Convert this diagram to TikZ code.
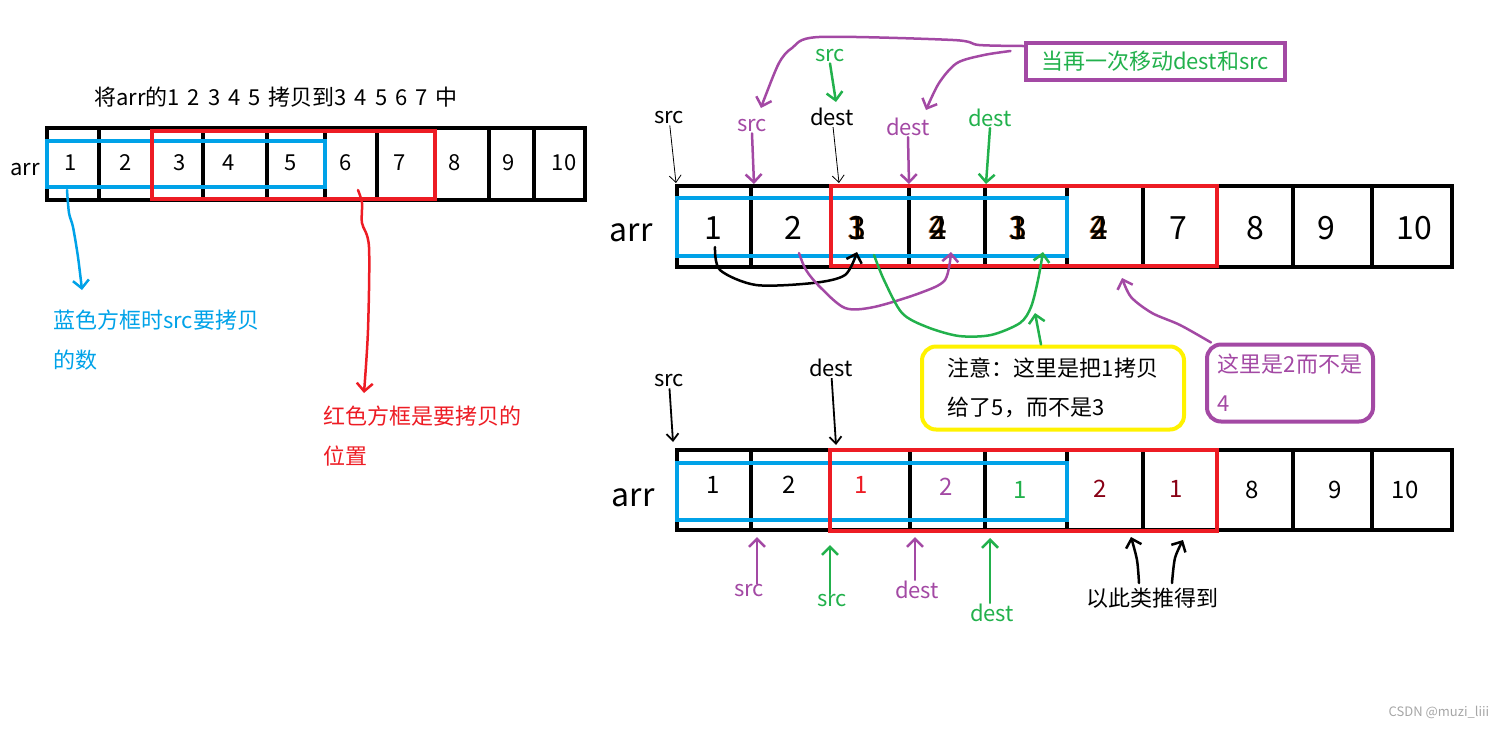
\documentclass[tikz,border=0pt]{standalone}
\usepackage{fontspec}
\setmainfont{Noto Sans CJK SC}
\usetikzlibrary{arrows.meta}
\definecolor{pblue}{RGB}{0,162,232}
\definecolor{pred}{RGB}{237,28,36}
\definecolor{pgreen}{RGB}{34,177,76}
\definecolor{ppurple}{RGB}{163,73,164}
\definecolor{pyellow}{RGB}{255,242,0}
\definecolor{pdark}{RGB}{136,0,21}
\definecolor{shade}{RGB}{200,110,30}
\newcommand\twodig[2]{\makebox[0pt]{\kern-1.6pt\textcolor{shade}{#1}}\makebox[0pt]{\kern-1.6pt\textcolor{shade}{#2}}\makebox[0pt]{#1}\makebox[0pt]{#2}}
\tikzset{
  wall/.style={line width=4pt},
  bluebox/.style={draw=pblue, line width=4pt},
  redbox/.style={draw=pred, line width=4pt},
  hand/.style={line width=2.5pt, line cap=round, line join=round, -{Straight Barb[length=8pt,width=16pt]}},
  thinarrow/.style={line width=0.8pt, -{Straight Barb[length=7pt,width=12pt]}},
  lbl/.style={font=\fontsize{22}{26}\selectfont, inner sep=1pt},
  big/.style={font=\fontsize{32}{36}\selectfont, inner sep=1pt},
  mid/.style={font=\fontsize{24}{28}\selectfont, inner sep=1pt},
}
\begin{document}
\begin{tikzpicture}[x=1pt,y=-1pt]
\useasboundingbox (0,0) rectangle (1508,729);

% first array
\node[lbl] (title) at (276,97) {\spaceskip=8pt\relax 将arr的1 2 3 4 5 拷贝到3 4 5 6 7 中};
\draw[wall] (47,128) rectangle (585,200);
\foreach \x in {99,152,203,267,325,377,435,489,534}
  \draw[wall] (\x,128) -- (\x,200);
\foreach \x/\v [count=\i] in {71/1,126/2,180/3,229/4,291/5,346/6,400/7,455/8,509/9,564/10}
  \node[lbl] (l\i) at (\x,163) {\v};
\node[lbl] (larr) at (25,170) {arr};
\draw[bluebox] (47,141) rectangle (325,187);
\draw[redbox] (152,131) rectangle (435,199);

\node[lbl, text=pblue, align=left, anchor=north west, font=\fontsize{22}{40}\selectfont] (bnote) at (52,309) {蓝色方框时src要拷贝\\的数};
\node[lbl, text=pred, align=left, anchor=north west, font=\fontsize{22}{40}\selectfont] (rnote) at (322,405) {红色方框是要拷贝的\\位置};
\coordinate (btip) at (82,290);
\coordinate (rtip) at (364,393);
\draw[hand, pblue] plot[smooth] coordinates {(67,190) (69,213) (73,227) (78,257) (btip)};
\draw[hand, pred] plot[smooth] coordinates {(358,190) (362,203) (362,223) (369,247) (368,330) (rtip)};

% second array
\node[big] (tarr) at (631,233) {arr};
\draw[wall] (677,186) rectangle (1452,267);
\foreach \x in {751,831,909,985,1067,1143,1217,1293,1372}
  \draw[wall] (\x,186) -- (\x,267);
\node[big] (t1) at (713,228) {1};
\node[big] (t2) at (793,228) {2};
\node[big] (t3) at (857,228) {\twodig{3}{1}};
\node[big] (t4) at (938,228) {\twodig{4}{2}};
\node[big] (t5) at (1018,228) {\twodig{3}{1}};
\node[big] (t6) at (1099,228) {\twodig{4}{2}};
\node[big] (t7) at (1178,228) {7};
\node[big] (t8) at (1255,228) {8};
\node[big] (t9) at (1326,228) {9};
\node[big] (t10) at (1414,228) {10};
\draw[bluebox] (677,198) rectangle (1067,256);
\draw[redbox] (831,186) rectangle (1217,266);

\node[lbl] (s0) at (669,118) {src};
\node[lbl, text=ppurple] (s1) at (752,126) {src};
\node[lbl] (d0) at (832,117) {dest};
\node[lbl, text=pgreen] (s2) at (830,56) {src};
\node[lbl, text=ppurple] (d1) at (908,127) {dest};
\node[lbl, text=pgreen] (d2) at (990,118) {dest};
\coordinate (ts0) at (676,183);
\coordinate (ts1) at (754,184);
\coordinate (td0) at (839,183);
\coordinate (ts2) at (836,102);
\coordinate (td1) at (909,184);
\coordinate (td2) at (986,184);
\draw[thinarrow] (s0) -- (ts0);
\draw[thinarrow] (d0) -- (td0);
\draw[hand, ppurple] (s1.south) -- (ts1);
\draw[hand, ppurple] (d1.south) -- (td1);
\draw[hand, pgreen] (s2.south) -- (ts2);
\draw[hand, pgreen] (d2.south) -- (td2);

\node[draw=ppurple, line width=4pt, text=pgreen, font=\fontsize{22}{26}\selectfont, minimum width=259pt, minimum height=37pt] (again) at (1155,61) {当再一次移动dest和src};
\coordinate (pa) at (761,108);
\coordinate (pb) at (926,110);
\draw[hand, ppurple] plot[smooth] coordinates {([yshift=15pt]again.west) (979,45) (953,40) (819,37) (792,48) (779,63) (765,97) (pa)};
\draw[hand, ppurple] plot[smooth] coordinates {([shift={(-13pt,10pt)}]again.west) (984,55) (957,63) (939,83) (pb)};

\node[draw=pyellow, line width=4pt, rounded corners=14pt, align=left, font=\fontsize{22}{39}\selectfont, minimum width=262pt, minimum height=83pt] (warn) at (1053,388) {注意：这里是把1拷贝\\给了5，而不是3};
\node[draw=ppurple, line width=4pt, rounded corners=14pt, align=left, text=ppurple, font=\fontsize{22}{39}\selectfont, minimum width=166pt, minimum height=77pt] (why) at (1290,383) {这里是2而不是\\4};

\coordinate (k3) at (857,252);
\coordinate (k4) at (951,252);
\coordinate (k5) at (1043,252);
\coordinate (k5b) at (1035,313);
\coordinate (k6) at (1122,278);
\draw[hand] plot[smooth] coordinates {(715,247) (720,270) (756,285) (813,283) (845,275) (k3)};
\draw[hand, ppurple] plot[smooth] coordinates {(799,253) (806,270) (820,287) (845,308) (874,307) (920,293) (945,280) (k4)};
\draw[hand, pgreen] plot[smooth] coordinates {(874,255) (884,280) (902,313) (927,327) (959,336) (991,335) (1020,323) (1031,307) (1038,280) (k5)};
\draw[hand, pgreen] ([xshift=-12pt]warn.north east -| warn.north) -- (k5b);
\draw[hand, ppurple] plot[smooth] coordinates {([xshift=6pt]why.north west) (1180,325) (1152,313) (1131,297) (k6)};

% third array
\node[big] (barr) at (633,498) {arr};
\draw[wall] (677,450) rectangle (1452,530);
\foreach \x in {751,830,910,985,1067,1143,1217,1293,1372}
  \draw[wall] (\x,450) -- (\x,530);
\node[mid] (b1) at (713,485) {1};
\node[mid] (b2) at (789,485) {2};
\node[mid, text=pred] (b3) at (861,485) {1};
\node[mid, text=ppurple] (b4) at (946,487) {2};
\node[mid, text=pgreen] (b5) at (1020,490) {1};
\node[mid, text=pdark] (b6) at (1100,489) {2};
\node[mid, text=pdark] (b7) at (1176,489) {1};
\node[mid] (b8) at (1252,490) {8};
\node[mid] (b9) at (1335,490) {9};
\node[mid] (b10) at (1405,490) {10};
\draw[bluebox] (677,463) rectangle (1067,520);
\draw[redbox] (830,450) rectangle (1217,531);

\node[lbl] (u0) at (669,381) {src};
\node[lbl] (v0) at (831,368) {dest};
\coordinate (us0) at (673,442);
\coordinate (vd0) at (836,445);
\draw[thinarrow, line width=1.8pt] (u0) -- (us0);
\draw[thinarrow, line width=1.8pt] (v0) -- (vd0);

\node[lbl, text=ppurple] (u1) at (749,591) {src};
\node[lbl, text=pgreen] (u2) at (832,601) {src};
\node[lbl, text=ppurple] (v1) at (917,590) {dest};
\node[lbl, text=pgreen] (v2) at (992,613) {dest};
\coordinate (us1) at (757,537);
\coordinate (us2) at (830,545);
\coordinate (vd1) at (915,537);
\coordinate (vd2) at (990,538);
\draw[hand, ppurple] (u1.north -| us1) -- (us1);
\draw[hand, pgreen] (u2.north -| us2) -- (us2);
\draw[hand, ppurple] (v1.north -| vd1) -- (vd1);
\draw[hand, pgreen] (v2.north -| vd2) -- (vd2);

\node[lbl] (etc) at (1152,598) {以此类推得到};
\coordinate (e1) at (1131,537);
\coordinate (e2) at (1183,540);
\draw[hand] plot[smooth] coordinates {(1139,583) (1137,560) (e1)};
\draw[hand] plot[smooth] coordinates {(1172,583) (1175,558) (e2)};

\node[text=gray!70, font=\fontsize{13}{15}\selectfont] (mark) at (1439,712) {CSDN @muzi\_liii};
\end{tikzpicture}
\end{document}
